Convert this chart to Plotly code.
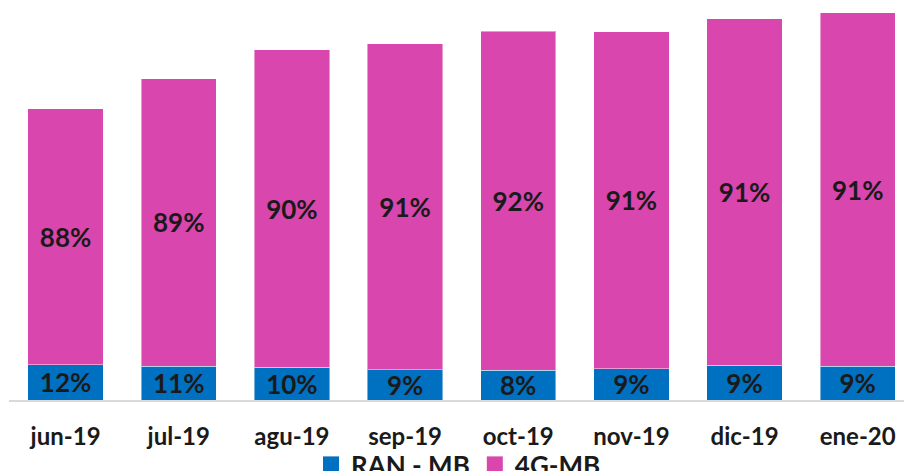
import plotly.graph_objects as go

months = ["jun-19", "jul-19", "agu-19", "sep-19", "oct-19", "nov-19", "dic-19", "ene-20"]
ran_mb = [35.2, 33.8, 32.8, 30.5, 29.8, 31.5, 34.8, 33.8]
g4_mb = [256.0, 287.7, 317.4, 326.0, 339.0, 337.0, 346.4, 353.4]
ran_pct = ["12%", "11%", "10%", "9%", "8%", "9%", "9%", "9%"]
g4_pct = ["88%", "89%", "90%", "91%", "92%", "91%", "91%", "91%"]

BLUE = "#0070C0"
PINK = "#D946AD"
FONT = "Lato"
TXT = "#1a1a1a"
label_font = dict(family=FONT, size=26, color=TXT, weight="bold")

fig = go.Figure()
fig.add_trace(go.Bar(x=months, y=ran_mb, name="RAN - MB", marker=dict(color=BLUE, line=dict(color="rgba(255,255,255,0.45)", width=1)),
                     text=ran_pct, textposition="inside", insidetextanchor="middle", textangle=0,
                     constraintext="none", textfont=label_font, showlegend=False, hoverinfo="skip"))
fig.add_trace(go.Bar(x=months, y=g4_mb, name="4G-MB", marker=dict(color=PINK, line=dict(color="rgba(255,255,255,0.45)", width=1)),
                     text=g4_pct, textposition="inside", insidetextanchor="middle", textangle=0,
                     constraintext="none", textfont=label_font, showlegend=False, hoverinfo="skip"))
# legend entries
fig.add_trace(go.Scatter(x=[None], y=[None], mode="markers", name="RAN - MB",
                         marker=dict(symbol="square", size=17, color=BLUE)))
fig.add_trace(go.Scatter(x=[None], y=[None], mode="markers", name="4G-MB",
                         marker=dict(symbol="square", size=17, color=PINK)))

fig.update_layout(
    width=904, height=471,
    barmode="stack", bargap=0.335,
    margin=dict(l=9, r=0, t=0, b=0, autoexpand=False),
    plot_bgcolor="white", paper_bgcolor="white",
    uniformtext=dict(minsize=26, mode="show"),
    showlegend=True,
    legend=dict(orientation="h", traceorder="normal", x=0.3374, xanchor="left", y=0.0637, yanchor="top",
                font=dict(family=FONT, size=26, color=TXT, weight="bold"),
                itemwidth=30, tracegroupgap=0, bgcolor="rgba(0,0,0,0)"),
)
fig.update_xaxes(type="category", range=[-0.5, 7.409], showline=True, linecolor="#D9D9D9", linewidth=2,
                 ticks="", tickfont=dict(family=FONT, size=24, color=TXT, weight="bold"),
                 ticklabelstandoff=14, automargin=False, fixedrange=True)
fig.update_yaxes(range=[0, 400], domain=[71 / 471, 1], visible=False, showgrid=False, zeroline=False,
                 automargin=False, fixedrange=True)

fig.write_html("out.html", config=dict(displayModeBar=False),
               post_script="document.body.style.margin='0';document.body.style.overflow='hidden';")
